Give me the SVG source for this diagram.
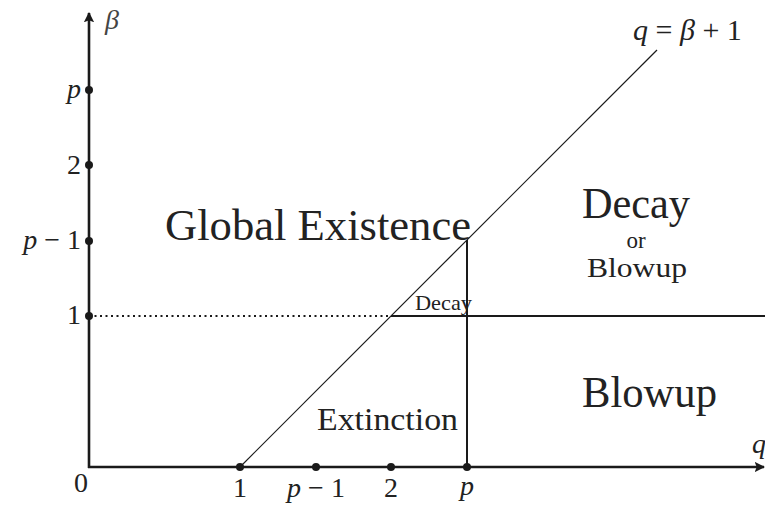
<svg xmlns="http://www.w3.org/2000/svg" width="765" height="508" viewBox="0 0 765 508" font-family="'Liberation Serif', 'DejaVu Serif', serif">
<defs>
<style>
.t{font-family:'Liberation Serif','DejaVu Serif',serif;fill:#222}
.m{font-family:'Liberation Serif','DejaVu Serif',serif;font-style:italic;fill:#222}
.g{fill:#444}
.ax{stroke:#1a1a1a;stroke-width:2.6;fill:none}
.thick{stroke:#1a1a1a;stroke-width:2;fill:none}
.thin{stroke:#1a1a1a;stroke-width:1.2;fill:none}
.dot{fill:#1a1a1a}
</style>
<marker id="arr" viewBox="0 0 10 10" refX="9" refY="5" markerWidth="4" markerHeight="4" orient="auto" markerUnits="strokeWidth">
<path d="M0,0 L10,5 L0,10 L2,5 Z" fill="#1a1a1a"/>
</marker>
</defs>
<g id="connectors">
<line class="ax" x1="89" y1="468" x2="89" y2="13" marker-end="url(#arr)"/>
<line class="ax" x1="88" y1="467" x2="764" y2="467" marker-end="url(#arr)"/>
<line class="thick" x1="89" y1="316" x2="391" y2="316" stroke-dasharray="2 3.5"/>
<line class="thick" x1="391" y1="316" x2="765" y2="316"/>
<line class="thin" x1="240" y1="467" x2="657" y2="50"/>
<line class="thick" x1="467" y1="240" x2="467" y2="467"/>
</g>
<g id="ticks">
<circle class="dot" cx="89" cy="90" r="4"/>
<circle class="dot" cx="89" cy="165" r="4"/>
<circle class="dot" cx="89" cy="241" r="4"/>
<circle class="dot" cx="89" cy="316" r="4"/>
<circle class="dot" cx="240" cy="467" r="4"/>
<circle class="dot" cx="316" cy="467" r="4"/>
<circle class="dot" cx="391" cy="467" r="4"/>
<circle class="dot" cx="467" cy="467" r="4"/>
</g>
<g id="axis-labels">
<text class="m g" x="105" y="29" font-size="28">β</text>
<text class="m" x="752" y="453" font-size="28">q</text>
<text class="m" x="81" y="98" font-size="28" text-anchor="end">p</text>
<text class="t" x="81" y="174" font-size="28" text-anchor="end">2</text>
<text x="81" y="249" font-size="28" text-anchor="end"><tspan class="m">p</tspan><tspan class="t"> − 1</tspan></text>
<text class="t" x="81" y="324" font-size="28" text-anchor="end">1</text>
<text class="t" x="81" y="492" font-size="28" text-anchor="middle">0</text>
<text class="t" x="240" y="497" font-size="28" text-anchor="middle">1</text>
<text x="316" y="497" font-size="28" text-anchor="middle"><tspan class="m">p</tspan><tspan class="t"> − 1</tspan></text>
<text class="t" x="391" y="497" font-size="28" text-anchor="middle">2</text>
<text class="m" x="467" y="495" font-size="28" text-anchor="middle">p</text>
<text x="633" y="40" font-size="30"><tspan class="m">q</tspan><tspan class="t"> = </tspan><tspan class="m">β</tspan><tspan class="t"> + 1</tspan></text>
</g>
<g id="region-global">
<text class="t" x="165" y="240" font-size="44" textLength="306" lengthAdjust="spacingAndGlyphs">Global Existence</text>
</g>
<g id="region-decay-or-blowup">
<text class="t" x="582" y="218" font-size="44" textLength="108" lengthAdjust="spacingAndGlyphs">Decay</text>
<text class="t" x="636" y="248" font-size="23" text-anchor="middle">or</text>
<text class="t" x="587" y="277" font-size="28" textLength="100" lengthAdjust="spacingAndGlyphs">Blowup</text>
</g>
<g id="region-decay">
<text class="t" x="415" y="310" font-size="22" textLength="57" lengthAdjust="spacingAndGlyphs">Decay</text>
</g>
<g id="region-extinction">
<text class="t" x="317" y="430" font-size="32" textLength="141" lengthAdjust="spacingAndGlyphs">Extinction</text>
</g>
<g id="region-blowup">
<text class="t" x="582" y="407" font-size="44" textLength="135" lengthAdjust="spacingAndGlyphs">Blowup</text>
</g>
</svg>
